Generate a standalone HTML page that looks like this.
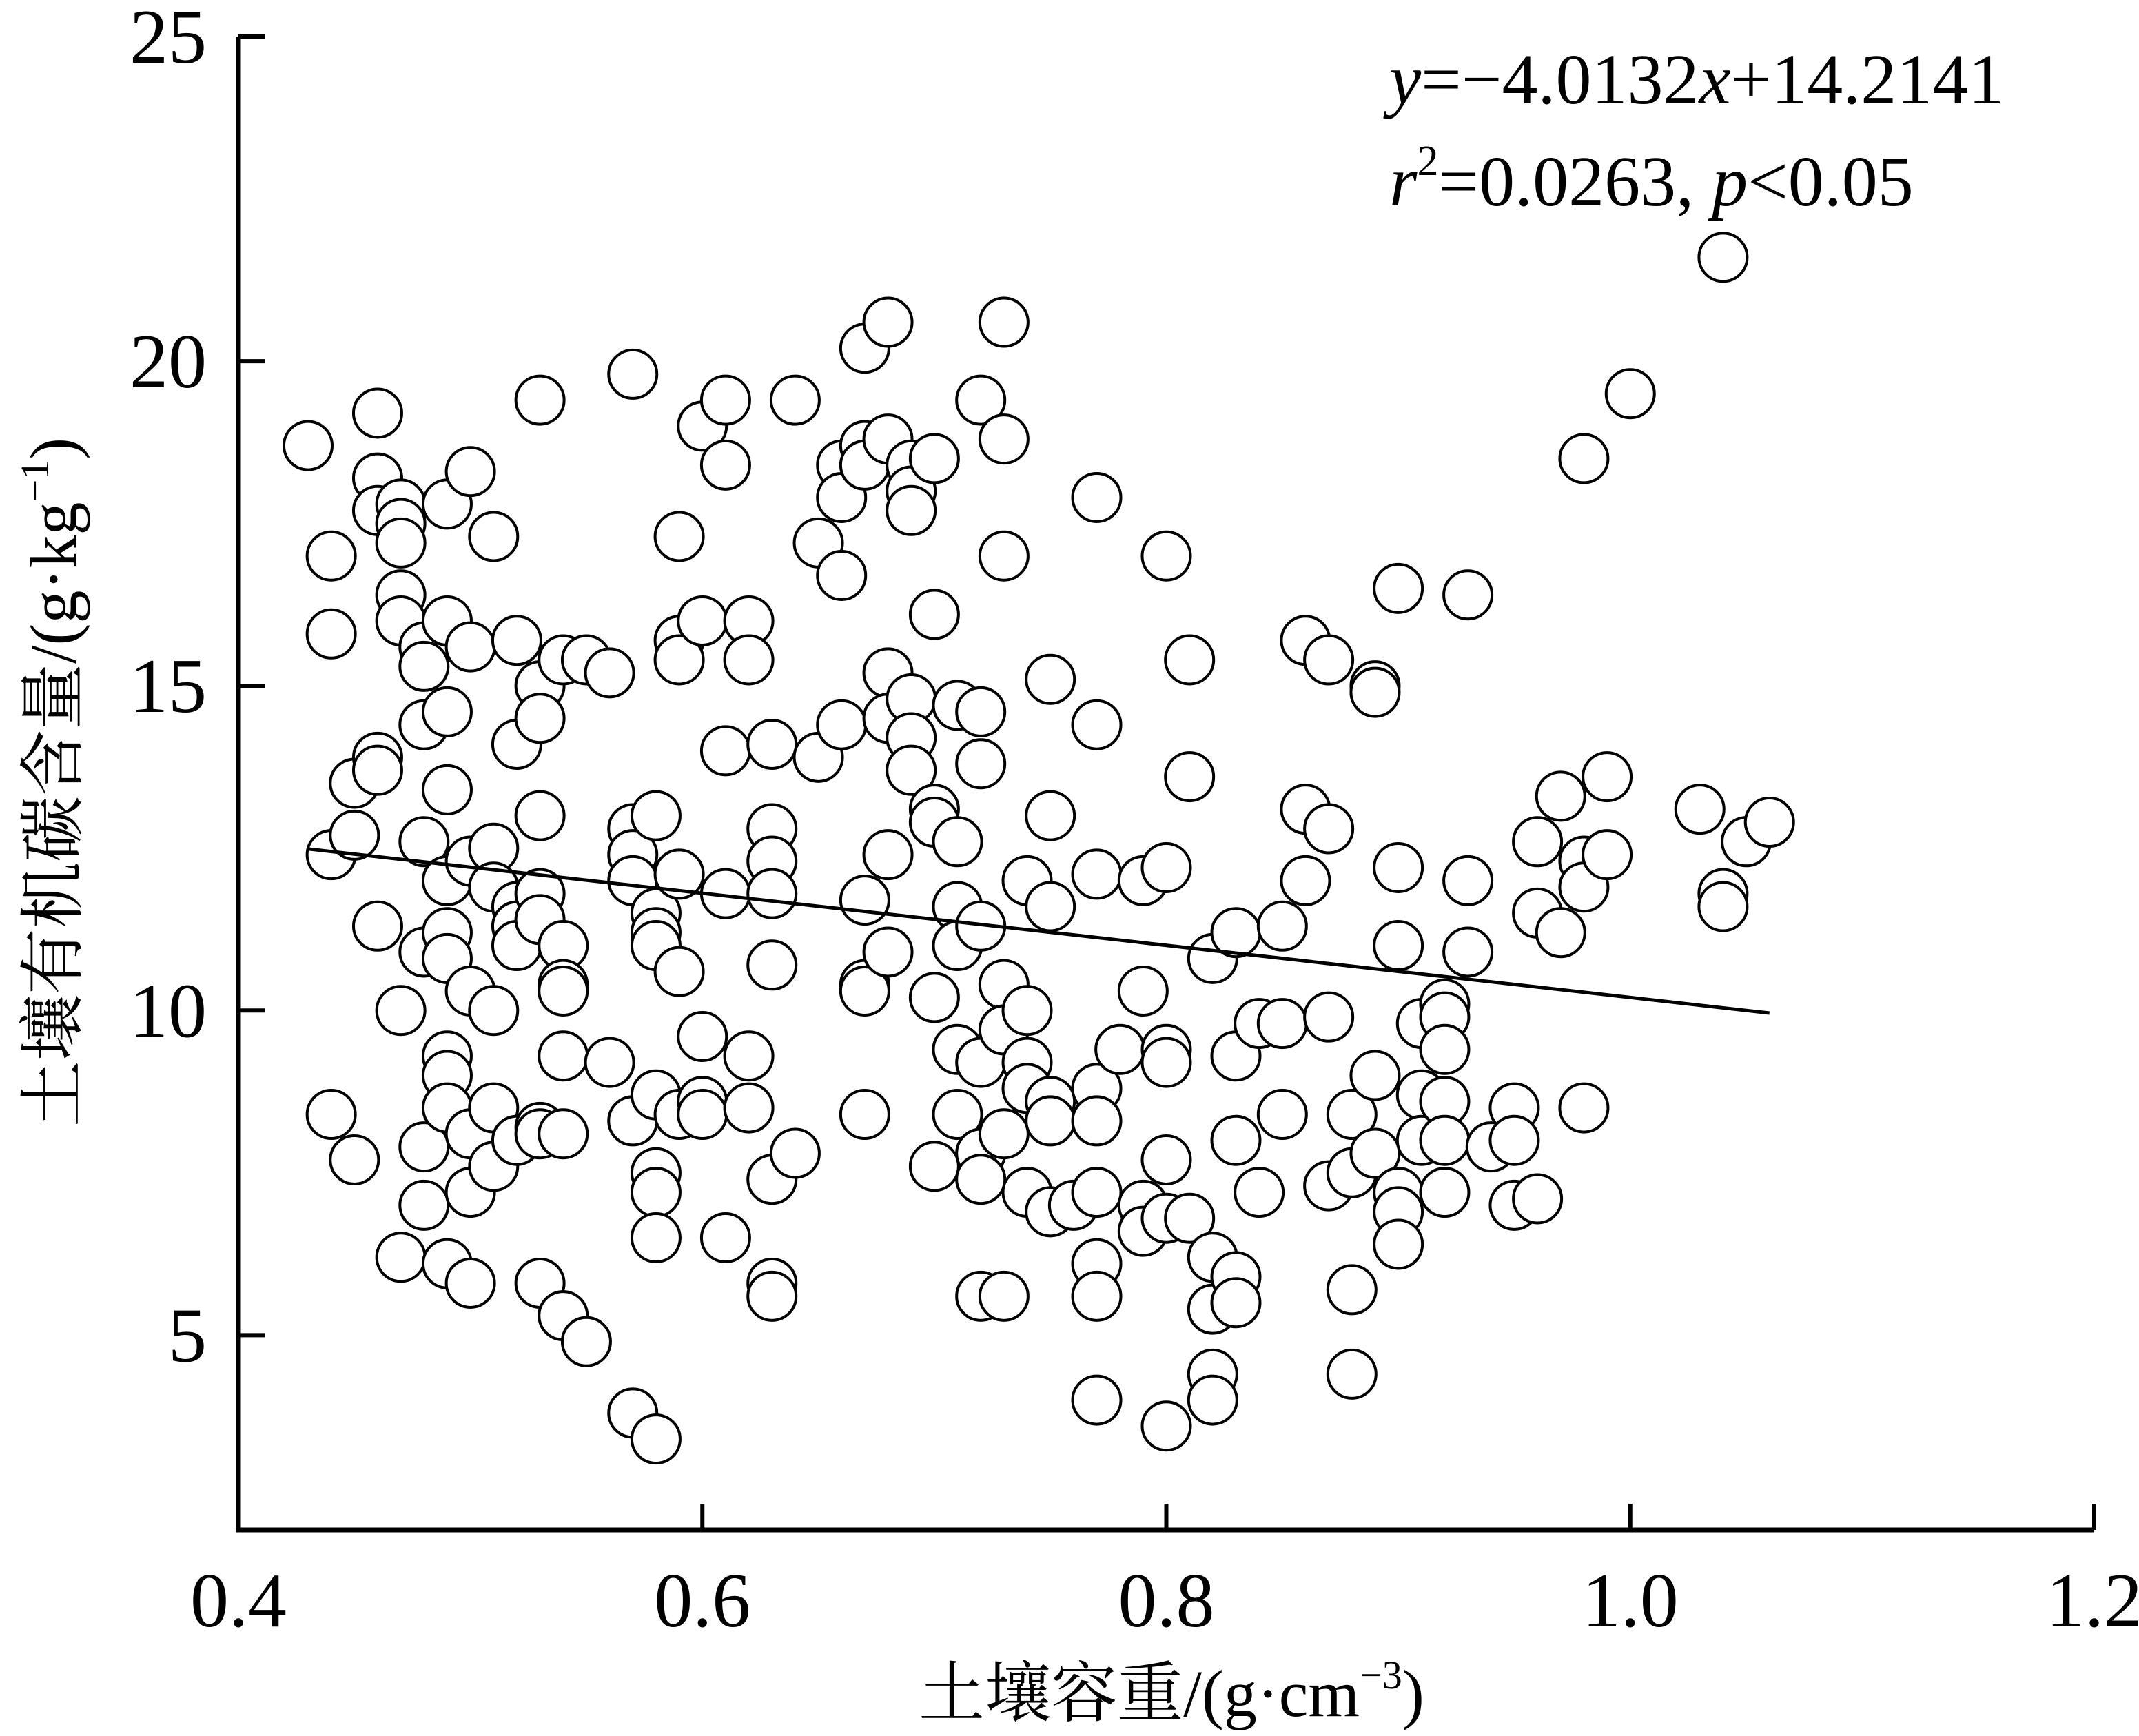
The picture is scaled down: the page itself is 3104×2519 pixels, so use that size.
<!DOCTYPE html>
<html><head><meta charset="utf-8"><style>
html,body{margin:0;padding:0;background:#fff;}
svg{display:block;font-family:"Liberation Serif","Noto Serif CJK SC","Noto Sans CJK SC",serif;}
</style></head><body>
<svg id="chart" width="3104" height="2519" viewBox="0 0 3104 2519" xmlns="http://www.w3.org/2000/svg">
<g id="points"></g>
<g id="axes"></g>
<text x="2016" y="150" font-size="104"><tspan font-style="italic">y</tspan>=−4.0132<tspan font-style="italic">x</tspan>+14.2141</text>
<text x="2016" y="298" font-size="104"><tspan font-style="italic">r</tspan><tspan font-size="62" dy="-44">2</tspan><tspan dy="44">=0.0263, </tspan><tspan font-style="italic">p</tspan>&lt;0.05</text>
<text x="1700" y="2490" font-size="96" text-anchor="middle">土壤容重/(g·cm<tspan font-size="58" dy="-40">−3</tspan><tspan dy="40">)</tspan></text>
<text transform="translate(110,1135) rotate(-90)" font-size="96" text-anchor="middle">土壤有机碳含量/(g·kg<tspan font-size="58" dy="-40">−1</tspan><tspan dy="40">)</tspan></text>
</svg>
<script>
const xs=[0.43,0.44,0.44,0.44,0.45,0.45,0.44,0.45,0.46,0.46,0.46,0.47,0.47,0.47,0.47,0.47,0.46,0.46,0.46,0.47,0.47,0.48,0.48,0.48,0.48,0.48,0.48,0.48,0.49,0.49,0.49,0.49,0.49,0.49,0.49,0.49,0.49,0.49,0.49,0.50,0.50,0.50,0.50,0.50,0.50,0.50,0.51,0.51,0.51,0.51,0.51,0.51,0.52,0.52,0.52,0.52,0.52,0.52,0.53,0.53,0.53,0.53,0.53,0.53,0.53,0.53,0.53,0.54,0.54,0.54,0.54,0.54,0.54,0.54,0.55,0.55,0.56,0.56,0.57,0.57,0.57,0.57,0.57,0.57,0.58,0.58,0.58,0.58,0.58,0.58,0.58,0.58,0.58,0.59,0.59,0.59,0.59,0.59,0.59,0.60,0.60,0.60,0.60,0.60,0.61,0.61,0.61,0.61,0.61,0.62,0.62,0.62,0.62,0.63,0.63,0.63,0.63,0.63,0.63,0.63,0.63,0.64,0.64,0.65,0.65,0.66,0.66,0.66,0.66,0.67,0.67,0.67,0.67,0.67,0.67,0.67,0.68,0.68,0.68,0.68,0.68,0.68,0.69,0.69,0.69,0.69,0.69,0.69,0.70,0.70,0.70,0.70,0.70,0.70,0.71,0.71,0.71,0.71,0.71,0.71,0.72,0.72,0.72,0.72,0.72,0.72,0.72,0.72,0.73,0.73,0.73,0.73,0.73,0.73,0.73,0.74,0.74,0.74,0.74,0.74,0.75,0.75,0.75,0.75,0.75,0.75,0.76,0.77,0.77,0.77,0.77,0.77,0.77,0.77,0.77,0.77,0.78,0.79,0.79,0.79,0.79,0.80,0.80,0.80,0.80,0.80,0.80,0.80,0.81,0.81,0.81,0.82,0.82,0.82,0.82,0.82,0.83,0.83,0.83,0.83,0.83,0.84,0.84,0.85,0.85,0.85,0.86,0.86,0.86,0.87,0.87,0.87,0.87,0.88,0.88,0.88,0.88,0.89,0.89,0.89,0.89,0.90,0.90,0.90,0.90,0.90,0.90,0.91,0.91,0.91,0.92,0.92,0.92,0.92,0.92,0.92,0.93,0.93,0.93,0.94,0.95,0.95,0.95,0.96,0.96,0.96,0.97,0.97,0.98,0.98,0.98,0.98,0.99,0.99,1.00,1.03,1.04,1.04,1.04,1.05,1.06];
const ys=[18.7,17.0,15.8,12.4,13.5,12.7,8.4,7.7,19.2,18.2,17.7,17.8,17.5,17.2,16.4,16.0,13.9,13.7,11.3,10.0,6.2,15.6,15.3,14.4,12.6,10.9,7.9,7.0,17.8,16.0,14.6,13.4,12.0,11.2,10.8,9.3,9.0,8.5,6.1,18.3,15.6,12.3,10.3,8.1,7.2,5.8,17.3,12.5,11.9,10.0,8.5,7.6,15.7,14.1,11.6,11.3,11.0,8.0,19.4,15.0,14.5,13.0,11.8,11.4,8.2,8.1,5.8,15.4,11.0,10.4,10.3,9.3,8.1,5.3,15.4,4.9,15.2,9.2,19.8,12.8,12.4,12.0,8.3,3.8,13.0,11.5,11.2,11.0,8.7,7.5,7.2,6.5,3.4,17.3,15.7,15.4,12.1,10.6,8.4,19.0,16.0,9.6,8.6,8.4,19.4,18.4,14.0,11.8,6.5,16.0,15.4,9.3,8.5,14.1,12.8,12.3,11.8,10.7,7.4,5.8,5.6,19.4,7.8,17.2,13.9,18.4,17.9,16.7,14.4,20.2,18.7,18.4,11.7,10.4,10.3,8.4,20.6,18.8,15.2,14.5,12.4,10.9,18.4,18.0,17.7,14.8,14.2,13.7,18.5,16.1,13.1,12.9,10.2,7.6,14.7,12.6,11.6,11.0,9.4,8.4,19.4,14.6,13.8,11.3,9.2,7.8,7.4,5.6,20.6,18.8,17.0,10.4,9.7,8.1,5.6,12.0,10.0,9.2,8.8,7.2,15.1,13.0,11.6,8.6,8.3,6.9,7.0,17.9,14.4,12.1,8.8,8.3,7.2,6.1,5.6,4.0,9.4,12.0,10.3,7.0,6.6,17.0,12.2,9.4,9.2,7.7,6.8,3.6,15.4,13.6,6.8,10.8,6.2,5.4,4.4,4.0,11.2,9.3,8.0,5.9,5.5,9.8,7.2,11.3,9.8,8.4,15.7,13.1,12.0,15.4,12.8,9.9,7.3,8.4,7.5,5.7,4.4,15.0,14.9,9.0,7.8,16.5,12.2,11.0,7.2,6.9,6.4,9.8,8.7,8.0,10.1,9.9,9.4,8.6,8.0,7.2,16.4,12.0,10.9,7.9,8.5,8.0,7.0,12.6,11.5,7.1,13.3,11.2,18.5,12.3,11.9,8.5,13.6,12.4,19.5,13.1,21.6,11.8,11.6,12.6,12.9];
const xTicks=[0.4,0.6,0.8,1.0,1.2];
const xTickLabels=["0.4","0.6","0.8","1.0","1.2"];
const yTicks=[5,10,15,20,25];
const yTickLabels=["5","10","15","20","25"];
const slope=-4.0132, intercept=14.2141, fitRange=[0.43,1.06];

const X0=346,X1=3039,Y0=2220,Y1=53;
const xMin=0.4,xMax=1.2,yMin=2.0,yMax=25;
const sx=v=>X0+(v-xMin)/(xMax-xMin)*(X1-X0);
const sy=v=>Y0-(v-yMin)/(yMax-yMin)*(Y0-Y1);
const NS="http://www.w3.org/2000/svg";
const pts=document.getElementById('points');
for(let i=0;i<xs.length;i++){
  const c=document.createElementNS(NS,'circle');
  c.setAttribute('cx',sx(xs[i]));c.setAttribute('cy',sy(ys[i]));
  c.setAttribute('r',35);c.setAttribute('fill','#fff');c.setAttribute('stroke','#000');c.setAttribute('stroke-width',4);
  
  
  pts.appendChild(c);
}
const ax=document.getElementById('axes');
const fit=document.createElementNS(NS,'line');
fit.setAttribute('x1',sx(fitRange[0]));fit.setAttribute('y1',sy(slope*fitRange[0]+intercept));
fit.setAttribute('x2',sx(fitRange[1]));fit.setAttribute('y2',sy(slope*fitRange[1]+intercept));
fit.setAttribute('stroke','#000');fit.setAttribute('stroke-width',5);


pts.appendChild(fit);
const frame=document.createElementNS(NS,'path');
frame.setAttribute('d',`M${X0},${Y1} L${X0},${Y0} L${X1},${Y0}`);
frame.setAttribute('fill','none');frame.setAttribute('stroke','#000');frame.setAttribute('stroke-width',7);


ax.appendChild(frame);
xTicks.forEach((t,i)=>{
  const l=document.createElementNS(NS,'line');
  l.setAttribute('x1',sx(t));l.setAttribute('x2',sx(t));l.setAttribute('y1',Y0);l.setAttribute('y2',Y0-38);
  l.setAttribute('stroke','#000');l.setAttribute('stroke-width',6);
  
  
  ax.appendChild(l);
  const tx=document.createElementNS(NS,'text');
  tx.setAttribute('x',sx(t));tx.setAttribute('y',2360);tx.setAttribute('font-size',112);tx.setAttribute('text-anchor','middle');
  tx.textContent=xTickLabels[i];
  
  
  ax.appendChild(tx);
});
yTicks.forEach((t,i)=>{
  const l=document.createElementNS(NS,'line');
  l.setAttribute('x1',X0);l.setAttribute('x2',X0+38);l.setAttribute('y1',sy(t));l.setAttribute('y2',sy(t));
  l.setAttribute('stroke','#000');l.setAttribute('stroke-width',6);
  
  
  ax.appendChild(l);
  const tx=document.createElementNS(NS,'text');
  tx.setAttribute('x',300);tx.setAttribute('y',sy(t)+38);tx.setAttribute('font-size',112);tx.setAttribute('text-anchor','end');
  tx.textContent=yTickLabels[i];
  
  
  ax.appendChild(tx);
});
</script>
</body></html>
